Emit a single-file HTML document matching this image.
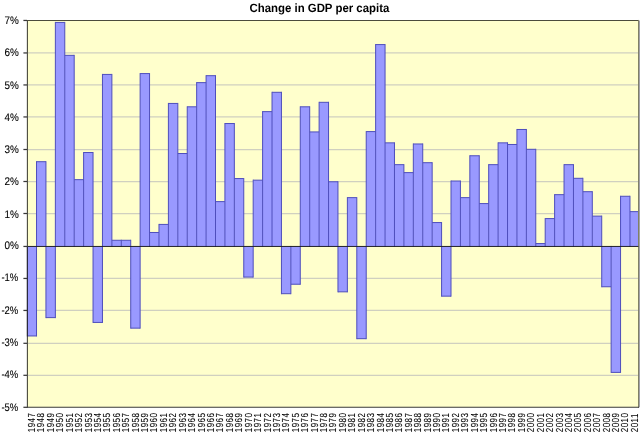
<!DOCTYPE html>
<html><head><meta charset="utf-8"><title>Change in GDP per capita</title>
<style>
html,body{margin:0;padding:0;background:#fff;}
body{width:640px;height:436px;overflow:hidden;}
svg{display:block;font-family:"Liberation Sans",Arial,sans-serif;text-rendering:geometricPrecision;}
</style></head><body>
<svg width="640" height="436" viewBox="0 0 640 436">
<rect x="0" y="0" width="640" height="436" fill="#ffffff"/>
<rect x="27.5" y="20.45" width="611.30" height="386.85" fill="#ffffcc"/>
<g stroke="#d0d0c0" stroke-width="1.25">
<line x1="27.5" y1="375.30" x2="638.8" y2="375.30"/>
<line x1="27.5" y1="343.30" x2="638.8" y2="343.30"/>
<line x1="27.5" y1="310.45" x2="638.8" y2="310.45"/>
<line x1="27.5" y1="278.45" x2="638.8" y2="278.45"/>
<line x1="27.5" y1="213.50" x2="638.8" y2="213.50"/>
<line x1="27.5" y1="181.50" x2="638.8" y2="181.50"/>
<line x1="27.5" y1="149.50" x2="638.8" y2="149.50"/>
<line x1="27.5" y1="116.95" x2="638.8" y2="116.95"/>
<line x1="27.5" y1="84.95" x2="638.8" y2="84.95"/>
<line x1="27.5" y1="52.95" x2="638.8" y2="52.95"/>
</g>
<g fill="#9999ff">
<rect x="27.50" y="246.45" width="9.02" height="89.51"/>
<rect x="36.52" y="161.69" width="9.42" height="84.76"/>
<rect x="45.94" y="246.45" width="9.42" height="71.17"/>
<rect x="55.36" y="22.41" width="9.42" height="224.04"/>
<rect x="64.78" y="55.35" width="9.42" height="191.10"/>
<rect x="74.20" y="179.66" width="9.42" height="66.79"/>
<rect x="83.62" y="152.52" width="9.42" height="93.93"/>
<rect x="93.04" y="246.45" width="9.42" height="76.00"/>
<rect x="102.46" y="74.43" width="9.42" height="172.02"/>
<rect x="111.88" y="240.28" width="9.42" height="6.17"/>
<rect x="121.30" y="240.28" width="9.42" height="6.17"/>
<rect x="130.72" y="246.45" width="9.42" height="81.70"/>
<rect x="140.14" y="73.57" width="9.42" height="172.88"/>
<rect x="149.56" y="232.47" width="9.42" height="13.98"/>
<rect x="158.98" y="224.42" width="9.42" height="22.03"/>
<rect x="168.40" y="103.44" width="9.42" height="143.01"/>
<rect x="177.82" y="153.52" width="9.42" height="92.93"/>
<rect x="187.24" y="106.80" width="9.42" height="139.65"/>
<rect x="196.66" y="82.63" width="9.42" height="163.82"/>
<rect x="206.08" y="75.68" width="9.42" height="170.77"/>
<rect x="215.50" y="201.61" width="9.42" height="44.84"/>
<rect x="224.92" y="123.52" width="9.42" height="122.93"/>
<rect x="234.34" y="178.55" width="9.42" height="67.90"/>
<rect x="243.76" y="246.45" width="9.42" height="30.64"/>
<rect x="253.18" y="180.16" width="9.42" height="66.29"/>
<rect x="262.60" y="111.63" width="9.42" height="134.82"/>
<rect x="272.02" y="92.30" width="9.42" height="154.15"/>
<rect x="281.44" y="246.45" width="9.42" height="47.25"/>
<rect x="290.86" y="246.45" width="9.42" height="37.79"/>
<rect x="300.28" y="106.80" width="9.42" height="139.65"/>
<rect x="309.70" y="131.93" width="9.42" height="114.52"/>
<rect x="319.12" y="102.32" width="9.42" height="144.13"/>
<rect x="328.54" y="181.78" width="9.42" height="64.67"/>
<rect x="337.96" y="246.45" width="9.42" height="45.39"/>
<rect x="347.38" y="197.64" width="9.42" height="48.81"/>
<rect x="356.80" y="246.45" width="9.42" height="92.23"/>
<rect x="366.22" y="131.58" width="9.42" height="114.87"/>
<rect x="375.64" y="44.57" width="9.42" height="201.88"/>
<rect x="385.06" y="142.85" width="9.42" height="103.60"/>
<rect x="394.48" y="164.66" width="9.42" height="81.79"/>
<rect x="403.90" y="172.61" width="9.42" height="73.84"/>
<rect x="413.32" y="143.97" width="9.42" height="102.48"/>
<rect x="422.74" y="162.69" width="9.42" height="83.76"/>
<rect x="432.16" y="222.56" width="9.42" height="23.89"/>
<rect x="441.58" y="246.45" width="9.42" height="49.72"/>
<rect x="451.00" y="181.03" width="9.42" height="65.42"/>
<rect x="460.42" y="197.64" width="9.42" height="48.81"/>
<rect x="469.84" y="155.75" width="9.42" height="90.70"/>
<rect x="479.26" y="203.58" width="9.42" height="42.87"/>
<rect x="488.68" y="164.66" width="9.42" height="81.79"/>
<rect x="498.10" y="142.85" width="9.42" height="103.60"/>
<rect x="507.52" y="144.47" width="9.42" height="101.98"/>
<rect x="516.94" y="129.47" width="9.42" height="116.98"/>
<rect x="526.36" y="149.30" width="9.42" height="97.15"/>
<rect x="535.78" y="243.55" width="9.42" height="2.90"/>
<rect x="545.20" y="218.58" width="9.42" height="27.87"/>
<rect x="554.62" y="194.67" width="9.42" height="51.78"/>
<rect x="564.04" y="164.66" width="9.42" height="81.79"/>
<rect x="573.46" y="178.30" width="9.42" height="68.15"/>
<rect x="582.88" y="191.69" width="9.42" height="54.76"/>
<rect x="592.30" y="216.11" width="9.42" height="30.34"/>
<rect x="601.72" y="246.45" width="9.42" height="40.31"/>
<rect x="611.14" y="246.45" width="9.42" height="125.95"/>
<rect x="620.56" y="196.28" width="9.42" height="50.17"/>
<rect x="629.98" y="211.64" width="8.82" height="34.81"/>
</g>
<path d="M27.50 245.95V336.46M36.52 161.19V336.46M45.94 161.19V318.12M55.36 21.91V318.12M64.78 21.91V246.95M74.20 54.85V246.95M83.62 152.02V246.95M93.04 152.02V322.95M102.46 73.93V322.95M111.88 73.93V246.95M121.30 239.78V246.95M130.72 239.78V328.65M140.14 73.07V328.65M149.56 73.07V246.95M158.98 223.92V246.95M168.40 102.94V246.95M177.82 102.94V246.95M187.24 106.30V246.95M196.66 82.13V246.95M206.08 75.18V246.95M215.50 75.18V246.95M224.92 123.02V246.95M234.34 123.02V246.95M243.76 178.05V277.59M253.18 179.66V277.59M262.60 111.13V246.95M272.02 91.80V246.95M281.44 91.80V294.20M290.86 245.95V294.20M300.28 106.30V284.74M309.70 106.30V246.95M319.12 101.82V246.95M328.54 101.82V246.95M337.96 181.28V292.34M347.38 197.14V292.34M356.80 197.14V339.18M366.22 131.08V339.18M375.64 44.07V246.95M385.06 44.07V246.95M394.48 142.35V246.95M403.90 164.16V246.95M413.32 143.47V246.95M422.74 143.47V246.95M432.16 162.19V246.95M441.58 222.06V296.67M451.00 180.53V296.67M460.42 180.53V246.95M469.84 155.25V246.95M479.26 155.25V246.95M488.68 164.16V246.95M498.10 142.35V246.95M507.52 142.35V246.95M516.94 128.97V246.95M526.36 128.97V246.95M535.78 148.80V246.95M545.20 218.08V246.95M554.62 194.17V246.95M564.04 164.16V246.95M573.46 164.16V246.95M582.88 177.80V246.95M592.30 191.19V246.95M601.72 215.61V287.26M611.14 245.95V372.90M620.56 195.78V372.90M629.98 195.78V246.95M638.80 211.14V246.95M27.50 335.96H36.52M36.52 161.69H45.94M45.94 317.62H55.36M55.36 22.41H64.78M64.78 55.35H74.20M74.20 179.66H83.62M83.62 152.52H93.04M93.04 322.45H102.46M102.46 74.43H111.88M111.88 240.28H121.30M121.30 240.28H130.72M130.72 328.15H140.14M140.14 73.57H149.56M149.56 232.47H158.98M158.98 224.42H168.40M168.40 103.44H177.82M177.82 153.52H187.24M187.24 106.80H196.66M196.66 82.63H206.08M206.08 75.68H215.50M215.50 201.61H224.92M224.92 123.52H234.34M234.34 178.55H243.76M243.76 277.09H253.18M253.18 180.16H262.60M262.60 111.63H272.02M272.02 92.30H281.44M281.44 293.70H290.86M290.86 284.24H300.28M300.28 106.80H309.70M309.70 131.93H319.12M319.12 102.32H328.54M328.54 181.78H337.96M337.96 291.84H347.38M347.38 197.64H356.80M356.80 338.68H366.22M366.22 131.58H375.64M375.64 44.57H385.06M385.06 142.85H394.48M394.48 164.66H403.90M403.90 172.61H413.32M413.32 143.97H422.74M422.74 162.69H432.16M432.16 222.56H441.58M441.58 296.17H451.00M451.00 181.03H460.42M460.42 197.64H469.84M469.84 155.75H479.26M479.26 203.58H488.68M488.68 164.66H498.10M498.10 142.85H507.52M507.52 144.47H516.94M516.94 129.47H526.36M526.36 149.30H535.78M535.78 243.55H545.20M545.20 218.58H554.62M554.62 194.67H564.04M564.04 164.66H573.46M573.46 178.30H582.88M582.88 191.69H592.30M592.30 216.11H601.72M601.72 286.76H611.14M611.14 372.40H620.56M620.56 196.28H629.98M629.98 211.64H638.80" fill="none" stroke="#4e4ebc" stroke-width="1"/>
<line x1="27.0" y1="20.45" x2="639.1" y2="20.45" stroke="#4c4c3c" stroke-width="1.1"/>
<rect x="638" y="19.95" width="1" height="387.85" fill="#808066"/>
<rect x="639" y="20.65" width="1" height="386.45" fill="#a2a2aa"/>
<line x1="27.5" y1="246.45" x2="638.5" y2="246.45" stroke="#20202a" stroke-width="1"/>
<line x1="27.4" y1="19.95" x2="27.4" y2="407.8" stroke="#48483a" stroke-width="1.1"/>
<line x1="27.0" y1="407.30" x2="639.1" y2="407.30" stroke="#3a3a3a" stroke-width="1.1"/>
<line x1="27.4" y1="246.45" x2="27.4" y2="336.46" stroke="#2a2a40" stroke-width="1.1"/>
<g stroke="#383838" stroke-width="1.25" fill="none">
<line x1="23.40" y1="407.30" x2="27.0" y2="407.30"/>
<line x1="23.40" y1="375.30" x2="27.0" y2="375.30"/>
<line x1="23.40" y1="343.30" x2="27.0" y2="343.30"/>
<line x1="23.40" y1="310.45" x2="27.0" y2="310.45"/>
<line x1="23.40" y1="278.45" x2="27.0" y2="278.45"/>
<line x1="23.40" y1="246.45" x2="27.0" y2="246.45"/>
<line x1="23.40" y1="213.50" x2="27.0" y2="213.50"/>
<line x1="23.40" y1="181.50" x2="27.0" y2="181.50"/>
<line x1="23.40" y1="149.50" x2="27.0" y2="149.50"/>
<line x1="23.40" y1="116.95" x2="27.0" y2="116.95"/>
<line x1="23.40" y1="84.95" x2="27.0" y2="84.95"/>
<line x1="23.40" y1="52.95" x2="27.0" y2="52.95"/>
<line x1="23.40" y1="20.45" x2="27.0" y2="20.45"/>
</g>
<g font-size="11" text-anchor="end" fill="#000" stroke="#000" stroke-width="0.1">
<text transform="translate(18.9,23.95) scale(0.9,1)">7%</text>
<text transform="translate(18.9,56.05) scale(0.9,1)">6%</text>
<text transform="translate(18.9,88.55) scale(0.9,1)">5%</text>
<text transform="translate(18.9,120.55) scale(0.9,1)">4%</text>
<text transform="translate(18.9,152.90) scale(0.9,1)">3%</text>
<text transform="translate(18.9,185.40) scale(0.9,1)">2%</text>
<text transform="translate(18.9,217.50) scale(0.9,1)">1%</text>
<text transform="translate(18.9,249.35) scale(0.9,1)">0%</text>
<text transform="translate(18.2,281.40) scale(0.86,1)">-1%</text>
<text transform="translate(18.2,314.05) scale(0.86,1)">-2%</text>
<text transform="translate(18.2,346.20) scale(0.86,1)">-3%</text>
<text transform="translate(18.2,378.30) scale(0.86,1)">-4%</text>
<text transform="translate(18.2,411.05) scale(0.86,1)">-5%</text>
</g>
<g font-size="10.2" fill="#000" stroke="#000" stroke-width="0.06" letter-spacing="0.6">
<text transform="translate(35.01,432.3) rotate(-90) scale(0.79,1)">1947</text>
<text transform="translate(44.43,432.3) rotate(-90) scale(0.79,1)">1948</text>
<text transform="translate(53.85,432.3) rotate(-90) scale(0.79,1)">1949</text>
<text transform="translate(63.27,432.3) rotate(-90) scale(0.79,1)">1950</text>
<text transform="translate(72.69,432.3) rotate(-90) scale(0.79,1)">1951</text>
<text transform="translate(82.11,432.3) rotate(-90) scale(0.79,1)">1952</text>
<text transform="translate(91.53,432.3) rotate(-90) scale(0.79,1)">1953</text>
<text transform="translate(100.95,432.3) rotate(-90) scale(0.79,1)">1954</text>
<text transform="translate(110.37,432.3) rotate(-90) scale(0.79,1)">1955</text>
<text transform="translate(119.79,432.3) rotate(-90) scale(0.79,1)">1956</text>
<text transform="translate(129.21,432.3) rotate(-90) scale(0.79,1)">1957</text>
<text transform="translate(138.63,432.3) rotate(-90) scale(0.79,1)">1958</text>
<text transform="translate(148.05,432.3) rotate(-90) scale(0.79,1)">1959</text>
<text transform="translate(157.47,432.3) rotate(-90) scale(0.79,1)">1960</text>
<text transform="translate(166.89,432.3) rotate(-90) scale(0.79,1)">1961</text>
<text transform="translate(176.31,432.3) rotate(-90) scale(0.79,1)">1962</text>
<text transform="translate(185.73,432.3) rotate(-90) scale(0.79,1)">1963</text>
<text transform="translate(195.15,432.3) rotate(-90) scale(0.79,1)">1964</text>
<text transform="translate(204.57,432.3) rotate(-90) scale(0.79,1)">1965</text>
<text transform="translate(213.99,432.3) rotate(-90) scale(0.79,1)">1966</text>
<text transform="translate(223.41,432.3) rotate(-90) scale(0.79,1)">1967</text>
<text transform="translate(232.83,432.3) rotate(-90) scale(0.79,1)">1968</text>
<text transform="translate(242.25,432.3) rotate(-90) scale(0.79,1)">1969</text>
<text transform="translate(251.67,432.3) rotate(-90) scale(0.79,1)">1970</text>
<text transform="translate(261.09,432.3) rotate(-90) scale(0.79,1)">1971</text>
<text transform="translate(270.51,432.3) rotate(-90) scale(0.79,1)">1972</text>
<text transform="translate(279.93,432.3) rotate(-90) scale(0.79,1)">1973</text>
<text transform="translate(289.35,432.3) rotate(-90) scale(0.79,1)">1974</text>
<text transform="translate(298.77,432.3) rotate(-90) scale(0.79,1)">1975</text>
<text transform="translate(308.19,432.3) rotate(-90) scale(0.79,1)">1976</text>
<text transform="translate(317.61,432.3) rotate(-90) scale(0.79,1)">1977</text>
<text transform="translate(327.03,432.3) rotate(-90) scale(0.79,1)">1978</text>
<text transform="translate(336.45,432.3) rotate(-90) scale(0.79,1)">1979</text>
<text transform="translate(345.87,432.3) rotate(-90) scale(0.79,1)">1980</text>
<text transform="translate(355.29,432.3) rotate(-90) scale(0.79,1)">1981</text>
<text transform="translate(364.71,432.3) rotate(-90) scale(0.79,1)">1982</text>
<text transform="translate(374.13,432.3) rotate(-90) scale(0.79,1)">1983</text>
<text transform="translate(383.55,432.3) rotate(-90) scale(0.79,1)">1984</text>
<text transform="translate(392.97,432.3) rotate(-90) scale(0.79,1)">1985</text>
<text transform="translate(402.39,432.3) rotate(-90) scale(0.79,1)">1986</text>
<text transform="translate(411.81,432.3) rotate(-90) scale(0.79,1)">1987</text>
<text transform="translate(421.23,432.3) rotate(-90) scale(0.79,1)">1988</text>
<text transform="translate(430.65,432.3) rotate(-90) scale(0.79,1)">1989</text>
<text transform="translate(440.07,432.3) rotate(-90) scale(0.79,1)">1990</text>
<text transform="translate(449.49,432.3) rotate(-90) scale(0.79,1)">1991</text>
<text transform="translate(458.91,432.3) rotate(-90) scale(0.79,1)">1992</text>
<text transform="translate(468.33,432.3) rotate(-90) scale(0.79,1)">1993</text>
<text transform="translate(477.75,432.3) rotate(-90) scale(0.79,1)">1994</text>
<text transform="translate(487.17,432.3) rotate(-90) scale(0.79,1)">1995</text>
<text transform="translate(496.59,432.3) rotate(-90) scale(0.79,1)">1996</text>
<text transform="translate(506.01,432.3) rotate(-90) scale(0.79,1)">1997</text>
<text transform="translate(515.43,432.3) rotate(-90) scale(0.79,1)">1998</text>
<text transform="translate(524.85,432.3) rotate(-90) scale(0.79,1)">1999</text>
<text transform="translate(534.27,432.3) rotate(-90) scale(0.79,1)">2000</text>
<text transform="translate(543.69,432.3) rotate(-90) scale(0.79,1)">2001</text>
<text transform="translate(553.11,432.3) rotate(-90) scale(0.79,1)">2002</text>
<text transform="translate(562.53,432.3) rotate(-90) scale(0.79,1)">2003</text>
<text transform="translate(571.95,432.3) rotate(-90) scale(0.79,1)">2004</text>
<text transform="translate(581.37,432.3) rotate(-90) scale(0.79,1)">2005</text>
<text transform="translate(590.79,432.3) rotate(-90) scale(0.79,1)">2006</text>
<text transform="translate(600.21,432.3) rotate(-90) scale(0.79,1)">2007</text>
<text transform="translate(609.63,432.3) rotate(-90) scale(0.79,1)">2008</text>
<text transform="translate(619.05,432.3) rotate(-90) scale(0.79,1)">2009</text>
<text transform="translate(628.47,432.3) rotate(-90) scale(0.79,1)">2010</text>
<text transform="translate(637.89,432.3) rotate(-90) scale(0.79,1)">2011</text>
</g>
<text transform="translate(319.4,12) scale(0.95,1)" font-size="12" font-weight="bold" text-anchor="middle" fill="#000">Change in GDP per capita</text>
</svg></body></html>
